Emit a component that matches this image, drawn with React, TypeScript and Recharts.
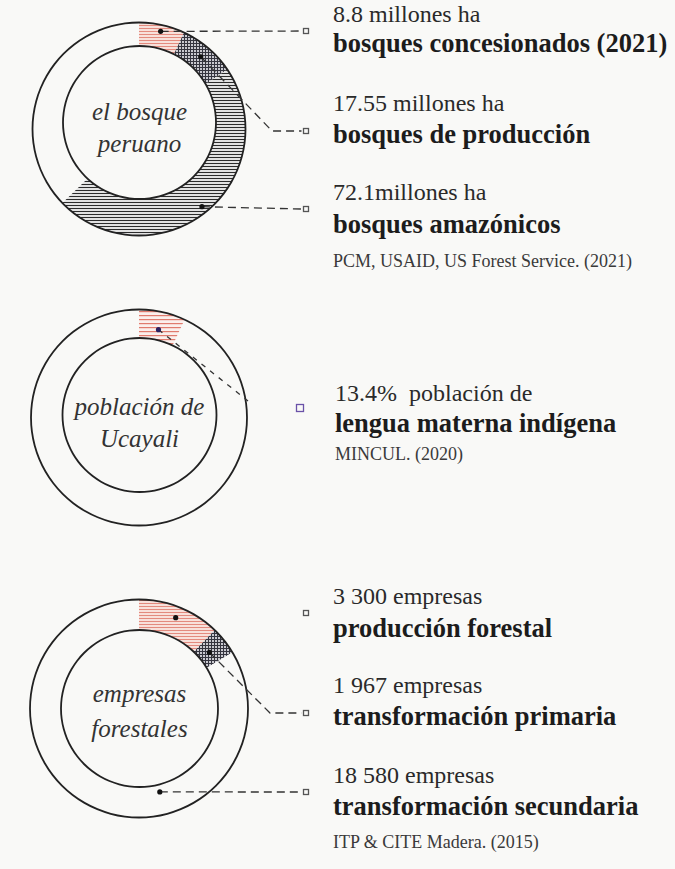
import React from "react";
import { PieChart, Pie, Cell } from "recharts";

const FONT = '"Liberation Serif", "Times New Roman", serif';
const INK = "#222";
const BG = "#f9f9f7";

// el bosque peruano
const bosqueAmounts = ["8.8 millones ha", "17.55 millones ha", "72.1millones ha"];
const bosqueNames = ["bosques concesionados (2021)", "bosques de producción", "bosques amazónicos"];
const bosqueArc = [25, 31, 170, 134]; // ring share as drawn (deg), last = empty
const bosqueSource = "PCM, USAID, US Forest Service. (2021)";
const bosqueTitle = ["el bosque", "peruano"];

// población de Ucayali
const poblacionAmounts = ["13.4%  población de"];
const poblacionNames = ["lengua materna indígena"];
const poblacionArc = [25, 335];
const poblacionSource = "MINCUL. (2020)";
const poblacionTitle = ["población de", "Ucayali"];

// empresas forestales
const empresasAmounts = ["3 300 empresas", "1 967 empresas", "18 580 empresas"];
const empresasNames = ["producción forestal", "transformación primaria", "transformación secundaria"];
const empresasArc = [44, 15, 214, 87];
const empresasSource = "ITP & CITE Madera. (2015)";
const empresasTitle = ["empresas", "forestales"];

const RAD = Math.PI / 180;
const polar = (cx: number, cy: number, r: number, angle: number) => ({
  x: cx + r * Math.cos(-angle * RAD),
  y: cy + r * Math.sin(-angle * RAD),
});

type Leader = {
  r: number;
  sy: number;
  line: "straight" | "elbow" | "diagonal" | "none";
  elbowX?: number;
  endY?: number;
};

type LeaderStyle = {
  sqX: number;
  sqSize: number;
  sqColor: string;
  dotColor: string;
  dash: string;
};

function makeLeaderLabel(leaders: Leader[], st: LeaderStyle) {
  return (props: any) => {
    const { cx, cy, midAngle, index } = props;
    const ld = leaders[index];
    if (!ld) return null;
    const d = polar(cx, cy, ld.r, midAngle);
    const sy = ld.sy;
    const end = st.sqX - st.sqSize / 2 - 2;
    let pts = "";
    if (ld.line === "straight") pts = `${d.x},${d.y} ${end},${sy}`;
    else if (ld.line === "elbow") pts = `${d.x},${d.y} ${ld.elbowX},${sy} ${end},${sy}`;
    else if (ld.line === "diagonal") pts = `${d.x},${d.y} ${ld.elbowX},${ld.endY}`;
    const s = st.sqSize;
    return (
      <g key={`leader-${index}`}>
        {pts && (
          <polyline
            points={pts}
            fill="none"
            stroke="#333"
            strokeWidth={1.3}
            strokeDasharray={st.dash}
          />
        )}
        <circle cx={d.x} cy={d.y} r={2.6} fill={st.dotColor} />
        <rect
          x={st.sqX - s / 2}
          y={sy - s / 2}
          width={s}
          height={s}
          fill="none"
          stroke={st.sqColor}
          strokeWidth={1.3}
        />
      </g>
    );
  };
}

type Circle = { cx: number; cy: number; r: number };

type DonutProps = {
  top: number;
  height: number;
  outer: Circle;
  inner: Circle;
  segInner: number;
  arc: number[];
  fills: string[];
  title: string[];
  titleY: number[];
  leaders: Leader[];
  leaderStyle: LeaderStyle;
  amounts: string[];
  names: string[];
  amountY: number[];
  nameY: number[];
  source: string;
  sourceY: number;
  textX: number;
};

const Donut: React.FC<DonutProps> = (p) => {
  const segData = p.arc.map((v, i) => ({ name: `s${i}`, v }));
  const one = [{ v: 1 }];
  return (
    <div style={{ position: "absolute", left: 0, top: p.top, width: 675, height: p.height }}>
      <PieChart width={675} height={p.height} margin={{ top: 0, right: 0, bottom: 0, left: 0 }}>
        <Pie
          data={segData}
          dataKey="v"
          cx={p.outer.cx}
          cy={p.outer.cy}
          innerRadius={p.segInner}
          outerRadius={p.outer.r}
          startAngle={90}
          endAngle={-270}
          stroke="none"
          isAnimationActive={false}
          labelLine={false}
          label={makeLeaderLabel(p.leaders, p.leaderStyle)}
        >
          {p.fills.map((f, i) => (
            <Cell key={`c-${i}`} fill={f} />
          ))}
        </Pie>
        {/* inner disc hides the hatch overlap */}
        <Pie
          data={one}
          dataKey="v"
          cx={p.inner.cx}
          cy={p.inner.cy}
          innerRadius={0}
          outerRadius={p.inner.r}
          startAngle={90}
          endAngle={-270}
          fill={BG}
          stroke="none"
          isAnimationActive={false}
        />
        <Pie
          data={one}
          dataKey="v"
          cx={p.outer.cx}
          cy={p.outer.cy}
          innerRadius={p.outer.r - 0.9}
          outerRadius={p.outer.r + 0.9}
          startAngle={90}
          endAngle={-270}
          fill={INK}
          stroke="none"
          isAnimationActive={false}
        />
        <Pie
          data={one}
          dataKey="v"
          cx={p.inner.cx}
          cy={p.inner.cy}
          innerRadius={p.inner.r - 0.9}
          outerRadius={p.inner.r + 0.9}
          startAngle={90}
          endAngle={-270}
          fill={INK}
          stroke="none"
          isAnimationActive={false}
        />
      </PieChart>
      {/* text layer sits above the pies */}
      <svg
        width={675}
        height={p.height}
        style={{ position: "absolute", left: 0, top: 0, pointerEvents: "none" }}
      >
        {p.title.map((t, i) => (
          <text
            key={`t-${i}`}
            x={p.inner.cx}
            y={p.titleY[i]}
            textAnchor="middle"
            fontFamily={FONT}
            fontStyle="italic"
            fontSize={25}
            fill="#333"
          >
            {t}
          </text>
        ))}
        {p.amounts.map((t, i) => (
          <text
            key={`a-${i}`}
            x={p.textX}
            y={p.amountY[i]}
            fontFamily={FONT}
            fontSize={24}
            fill="#2a2a2a"
            style={{ whiteSpace: "pre" }}
          >
            {t}
          </text>
        ))}
        {p.names.map((t, i) => (
          <text
            key={`n-${i}`}
            x={p.textX}
            y={p.nameY[i]}
            fontFamily={FONT}
            fontWeight="bold"
            fontSize={26.5}
            fill="#1c1c1c"
          >
            {t}
          </text>
        ))}
        <text x={p.textX} y={p.sourceY} fontFamily={FONT} fontSize={18} fill="#3a3a3a">
          {p.source}
        </text>
      </svg>
    </div>
  );
};

export default function App() {
  return (
    <div
      style={{
        position: "absolute",
        left: 0,
        top: 0,
        width: 675,
        height: 869,
        background: BG,
        overflow: "hidden",
      }}
    >
      <svg width={0} height={0} style={{ position: "absolute" }}>
        <defs>
          <pattern id="pinkHatch" width={4} height={3} patternUnits="userSpaceOnUse">
            <rect width={4} height={3} fill="#f8e0da" />
            <rect y={1} width={4} height={1} fill="#e38a7e" />
          </pattern>
          <pattern id="pinkHatch2" width={4} height={4} patternUnits="userSpaceOnUse">
            <rect width={4} height={4} fill="#fbefec" />
            <rect y={1} width={4} height={1.2} fill="#e07b6e" />
          </pattern>
          <pattern id="crossHatch" width={3} height={3} patternUnits="userSpaceOnUse">
            <rect width={3} height={3} fill="#c9c9cf" />
            <rect y={1} width={3} height={1} fill="#35353f" />
            <rect x={1} width={1} height={3} fill="#35353f" />
          </pattern>
          <pattern id="lineHatch" width={4} height={3} patternUnits="userSpaceOnUse">
            <rect width={4} height={3} fill="#e2e2e2" />
            <rect y={1} width={4} height={1} fill="#2c2c2c" />
          </pattern>
        </defs>
      </svg>

      <Donut
        top={0}
        height={290}
        outer={{ cx: 139, cy: 129, r: 106.5 }}
        inner={{ cx: 139.5, cy: 122.5, r: 76.5 }}
        segInner={66}
        arc={bosqueArc}
        fills={["url(#pinkHatch)", "url(#crossHatch)", "url(#lineHatch)", "none"]}
        title={bosqueTitle}
        titleY={[120, 152]}
        leaders={[
          { r: 100, sy: 31, line: "straight" },
          { r: 95, sy: 131, line: "elbow", elbowX: 272 },
          { r: 100, sy: 209, line: "straight" },
        ]}
        leaderStyle={{ sqX: 306, sqSize: 5, sqColor: "#555", dotColor: "#111", dash: "8 5" }}
        amounts={bosqueAmounts}
        names={bosqueNames}
        amountY={[22, 111, 200]}
        nameY={[51.5, 143, 233]}
        source={bosqueSource}
        sourceY={267}
        textX={333}
      />

      <Donut
        top={290}
        height={270}
        outer={{ cx: 139, cy: 127.5, r: 108 }}
        inner={{ cx: 139.5, cy: 125, r: 77 }}
        segInner={70}
        arc={poblacionArc}
        fills={["url(#pinkHatch2)", "none"]}
        title={poblacionTitle}
        titleY={[125, 157]}
        leaders={[{ r: 90, sy: 118, line: "diagonal", elbowX: 248, endY: 111 }]}
        leaderStyle={{ sqX: 300, sqSize: 7, sqColor: "#6a52a8", dotColor: "#2a2060", dash: "5 6" }}
        amounts={poblacionAmounts}
        names={poblacionNames}
        amountY={[111]}
        nameY={[142]}
        source={poblacionSource}
        sourceY={170}
        textX={335}
      />

      <Donut
        top={560}
        height={309}
        outer={{ cx: 139, cy: 148.5, r: 109 }}
        inner={{ cx: 139.5, cy: 148.5, r: 78.5 }}
        segInner={77}
        arc={empresasArc}
        fills={["url(#pinkHatch)", "url(#crossHatch)", "none", "none"]}
        title={empresasTitle}
        titleY={[142, 177]}
        leaders={[
          { r: 98, sy: 53, line: "none" },
          { r: 90, sy: 153, line: "elbow", elbowX: 270 },
          { r: 86, sy: 232, line: "straight" },
        ]}
        leaderStyle={{ sqX: 306, sqSize: 5, sqColor: "#555", dotColor: "#111", dash: "8 5" }}
        amounts={empresasAmounts}
        names={empresasNames}
        amountY={[44, 133, 223]}
        nameY={[77, 165, 255]}
        source={empresasSource}
        sourceY={288}
        textX={333}
      />
    </div>
  );
}
